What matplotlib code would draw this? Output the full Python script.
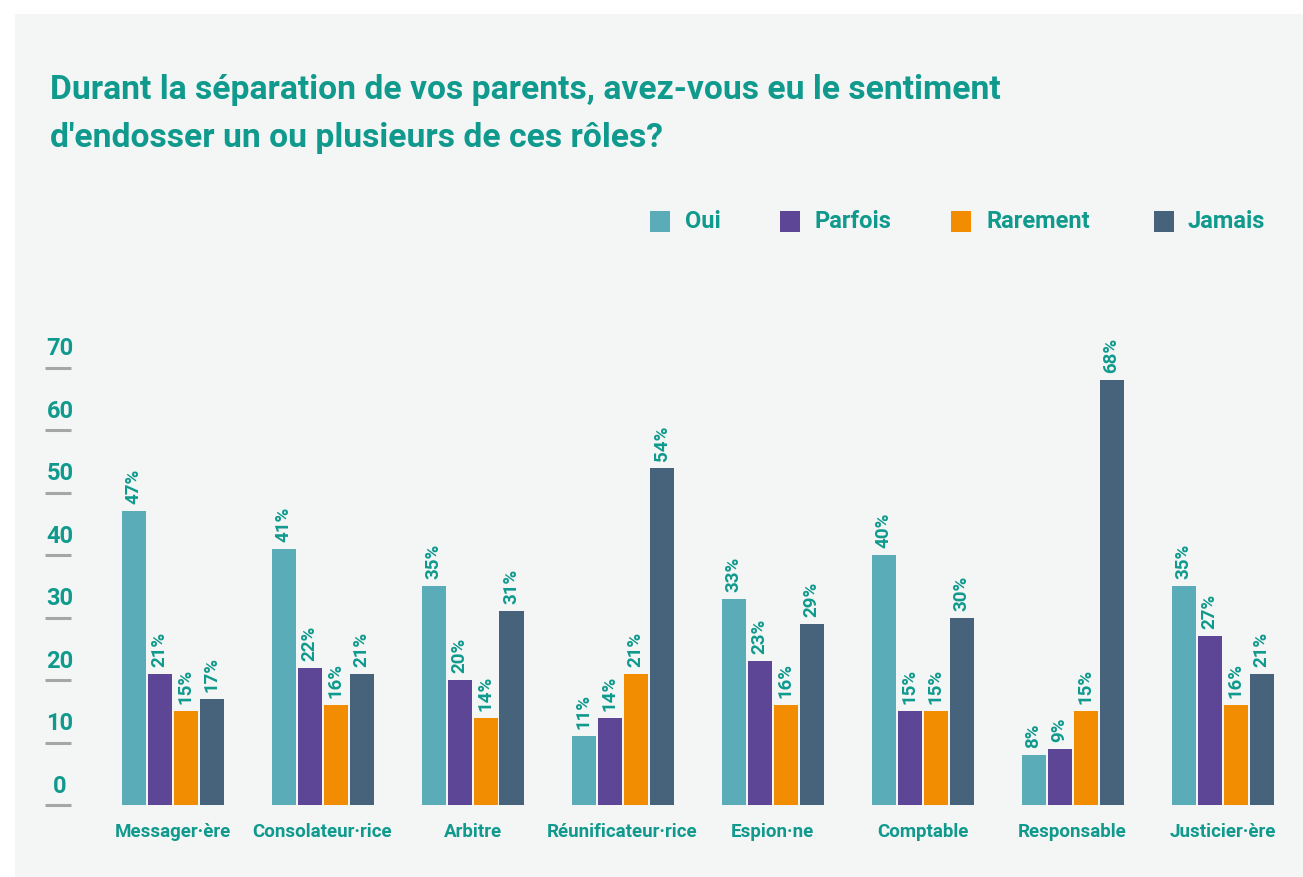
import matplotlib.pyplot as plt
from matplotlib.patches import Rectangle
import numpy as np

plt.rcParams['font.family'] = ['Roboto', 'DejaVu Sans']
plt.rcParams['font.weight'] = 'bold'

categories = ["Messager·ère", "Consolateur·rice", "Arbitre", "Réunificateur·rice",
              "Espion·ne", "Comptable", "Responsable", "Justicier·ère"]
series = ["Oui", "Parfois", "Rarement", "Jamais"]
oui = [47, 41, 35, 11, 33, 40, 8, 35]
parfois = [21, 22, 20, 14, 23, 15, 9, 27]
rarement = [15, 16, 14, 21, 16, 15, 15, 16]
jamais = [17, 21, 31, 54, 29, 30, 68, 21]
yticks = [0, 10, 20, 30, 40, 50, 60, 70]

colors = ["#5aadb8", "#5e4696", "#f28c00", "#47627b"]
teal = "#0f9a8d"
bg = "#f4f5f5"

W, H = 1303, 877
fig = plt.figure(figsize=(W / 100, H / 100), dpi=100, facecolor="white")
fig.patches.append(Rectangle((15 / W, 0), 1 - 15 / W, 1 - 14 / H, transform=fig.transFigure,
                             facecolor=bg, edgecolor="none", zorder=-10))

# axes: value 0 at y=805px, value 70 at y=367.5px; group spacing 150px
y0, y70 = 805, 367.5
ax = fig.add_axes([45 / W, 1 - y0 / H, (1290 - 45) / W, (y0 - y70) / H])
ax.set_facecolor("none")
ax.set_ylim(0, 70)
ax.set_xlim((45 - 172.5) / 150, (1290 - 172.5) / 150)
for s in ax.spines.values():
    s.set_visible(False)
ax.set_xticks([])
ax.set_yticks([])

x = np.arange(len(categories))
width = 24 / 150
step = 26 / 150
for k, (name, vals) in enumerate(zip(series, [oui, parfois, rarement, jamais])):
    pos = x + (k - 1.5) * step
    ax.bar(pos, vals, width=width, color=colors[k], label=name)
    for p, v in zip(pos, vals):
        ax.annotate(f"{v}%", xy=(p, v), xytext=(0, 5), textcoords="offset points",
                    rotation=90, ha="center", va="bottom", color=teal, fontsize=13.5)

for i, c in enumerate(categories):
    ax.annotate(c, xy=(i, 0), xytext=(0, -19.5), textcoords="offset points",
                ha="center", va="center", color=teal, fontsize=13.5)

# y tick labels with short gray lines below
lx0, lx1 = (45 - 172.5) / 150, (71 - 172.5) / 150
ax.hlines(yticks, lx0, lx1, color="#a6a6a6", lw=2.2, clip_on=False)
for t in yticks:
    ax.annotate(str(t), xy=((60 - 172.5) / 150, t), xytext=(0, 13.5), textcoords="offset points",
                ha="center", va="center", color=teal, fontsize=17)

# legend
leg_sq = [650, 780, 951, 1154]
leg_tx = [685, 815, 987, 1188]
for k, name in enumerate(series):
    fig.patches.append(Rectangle((leg_sq[k] / W, 1 - 232 / H), 20 / W, 21 / H,
                                 transform=fig.transFigure, facecolor=colors[k], edgecolor="none"))
    fig.text(leg_tx[k] / W, 1 - 221 / H, name, ha="left", va="center", color=teal, fontsize=17)

fig.text(50 / W, 1 - 99 / H, "Durant la séparation de vos parents, avez-vous eu le sentiment",
         ha="left", va="baseline", color=teal, fontsize=24.2)
fig.text(50 / W, 1 - 147 / H, "d'endosser un ou plusieurs de ces rôles?",
         ha="left", va="baseline", color=teal, fontsize=24.2)

fig.savefig("out.png", dpi=100, facecolor="white")
